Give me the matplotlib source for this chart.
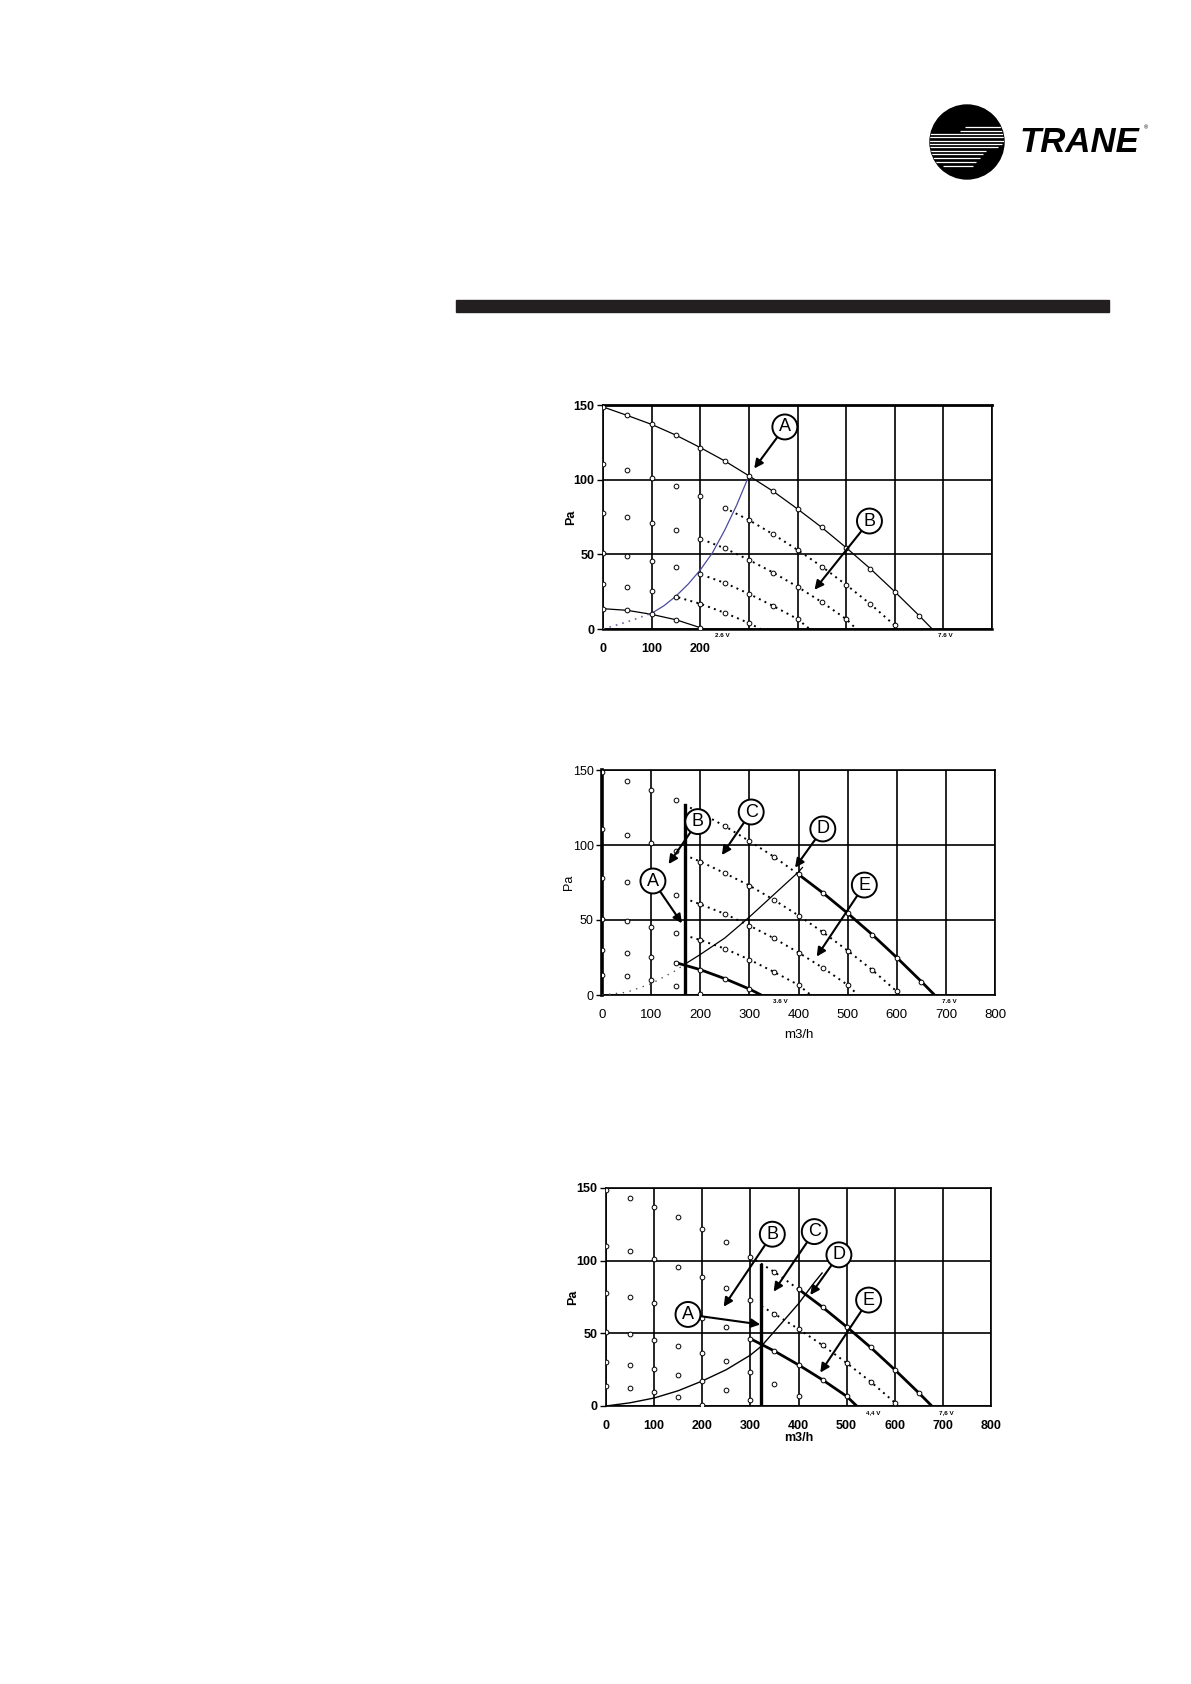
import numpy as np
import matplotlib.pyplot as plt
from matplotlib.patches import Circle, Rectangle

plt.rcParams['font.family'] = ['Liberation Sans', 'DejaVu Sans']

# Точки кривых вентилятора (м3/ч, Па), шаг 50 м3/ч
flow = [0, 50, 100, 150, 200, 250, 300, 350, 400, 450, 500, 550, 600, 650]
p_76 = [148.7, 143, 137, 129.8, 121.5, 112.6, 102.6, 92.2, 80.4, 68, 54.5, 40.3, 25, 9]
p_c2 = [110.4, 106.4, 101.3, 95.7, 89, 81.2, 73, 63.4, 53, 41.8, 29.6, 16.7, 2.4]
p_c3 = [77.9, 75.2, 71.2, 66.6, 60.5, 54.1, 46.3, 37.8, 28.3, 18, 6.7]
p_c4 = [50.8, 49.2, 45.6, 41.6, 36.7, 30.9, 23.6, 15.4, 6.7]
p_c5 = [30.1, 28.3, 25.2, 21.6, 16.9, 10.9, 4]
p_c6 = [13.6, 12.5, 9.8, 6.2, 0.9]
# где кривая пересекает ноль
end_flow = [677, 605, 521, 425, 324, 203]
curves = [p_76, p_c2, p_c3, p_c4, p_c5, p_c6]

# Кривые сети
sys1_x = [100, 125, 150, 175, 200, 225, 250, 275, 300]
sys1_y = [10.5, 15.5, 22, 30, 39.5, 51, 66, 83, 102.6]
sys1_dot_x = [0, 50, 100]
sys1_dot_y = [0, 4.8, 10.5]

sys2_x = [168, 200, 250, 300, 350, 400, 408]
sys2_y = [20.4, 27, 38, 52, 67, 82, 85]
sys2_dot_x = [0, 50, 100, 150, 168]
sys2_dot_y = [0, 1.8, 7.5, 16.3, 20.4]

sys3_x = [0, 50, 100, 150, 200, 250, 300, 323, 350, 400, 432, 449]
sys3_y = [0, 2.2, 5.5, 10.5, 17.2, 25, 35, 41.2, 51.4, 70.4, 84.6, 91.5]

x_ticks = [0, 100, 200, 300, 400, 500, 600, 700, 800]
y_ticks = [0, 50, 100, 150]

# Полосы логотипа: (y, x0, x1) в пикселях
logo_stripes = [(128, 967, 1003), (132, 962, 1004), (135, 930, 1005), (138, 930, 1006),
                (142, 930, 1006), (145, 930, 1004), (148, 930, 1000), (152, 930, 988),
                (155, 930, 985), (159, 930, 982), (163, 935, 978), (167, 945, 975)]

DOT = (0, (1, 2.2))


def curve_xy(i):
    xs = flow[:len(curves[i])] + [end_flow[i]]
    ys = curves[i] + [0]
    return np.array(xs, float), np.array(ys, float)


def segment(ax, i, x0, x1, **kw):
    xs, ys = curve_xy(i)
    inner = xs[(xs > x0) & (xs < x1)]
    sx = np.concatenate([[x0], inner, [x1]])
    ax.plot(sx, np.interp(sx, xs, ys), color='black', zorder=2, **kw)


def markers(ax):
    for c in curves:
        ax.plot(flow[:len(c)], c, ls='none', marker='o', ms=3.4, mfc='white',
                mec='black', mew=0.7, zorder=4)


def setup(ax, bold, xlabels, tick_fs=9):
    w = 'bold' if bold else 'normal'
    ax.set_xlim(0, 800)
    ax.set_ylim(0, 150)
    ax.set_xticks(x_ticks)
    ax.set_yticks(y_ticks)
    ax.set_xticklabels(xlabels, fontsize=tick_fs, fontweight=w)
    ax.set_yticklabels([str(v) for v in y_ticks], fontsize=9, fontweight=w)
    ax.tick_params(axis='x', length=0, pad=10)
    ax.tick_params(axis='y', length=4, width=1, pad=2)
    ax.grid(True, color='black', lw=1.2)
    ax.set_axisbelow(True)
    for s in ax.spines.values():
        s.set_linewidth(1.2)


def tag(ax, letter, xy, xytext):
    ax.annotate(letter, xy=xy, xytext=xytext, ha='center', va='center', fontsize=13,
                bbox=dict(boxstyle='circle,pad=0.22', fc='white', ec='black', lw=1.4),
                arrowprops=dict(arrowstyle='-|>', color='black', lw=1.5, mutation_scale=13,
                                shrinkA=0, shrinkB=0),
                zorder=6, annotation_clip=False)


def volt(ax, x, s):
    ax.text(x, -4.5, s, fontsize=4.5, fontweight='bold', ha='center', va='center',
            clip_on=False)


fig = plt.figure(figsize=(11.91, 16.84), dpi=100)

# Шапка: полоса и логотип
bg = fig.add_axes([0, 0, 1, 1], zorder=-1)
bg.set_xlim(0, 1191)
bg.set_ylim(1684, 0)
bg.axis('off')
bg.add_patch(Rectangle((456, 300), 653, 12, color='#231f20'))
disc = Circle((967, 142), 37, color='black')
bg.add_patch(disc)
for y, x0, x1 in logo_stripes:
    ln, = bg.plot([x0 - 2, x1 - 2], [y - 1, y - 1], color='white', lw=0.9,
                  solid_capstyle='butt')
    ln.set_clip_path(disc)
bg.text(1020, 143, 'TRANE', fontsize=25, fontweight='heavy', style='italic',
        ha='left', va='center')
bg.text(1146, 128, '®', fontsize=4, ha='center', va='center')

# График 1
ax1 = fig.add_axes([603 / 1191, 1 - 629 / 1684, 389 / 1191, 224 / 1684])
setup(ax1, True, ['0', '100', '200', '', '', '', '', '', ''])
ax1.spines['top'].set_linewidth(2)
ax1.spines['bottom'].set_linewidth(1.8)
segment(ax1, 0, 0, end_flow[0], lw=0.9)
segment(ax1, 5, 0, end_flow[5], lw=0.9)
for i, x0 in zip([1, 2, 3, 4], [250, 215, 215, 155]):
    segment(ax1, i, x0, end_flow[i], lw=1.4, ls=DOT)
ax1.plot(sys1_x, sys1_y, color='#4b4b9b', lw=0.9, zorder=3)
ax1.plot(sys1_dot_x, sys1_dot_y, color='#6a6aa8', lw=1.2, ls=(0, (1, 3)), zorder=3)
markers(ax1)
tag(ax1, 'A', (311, 107.5), (374, 135.3))
tag(ax1, 'B', (435, 26.3), (548, 72.3))
volt(ax1, 245, '2.6 V')
volt(ax1, 705, '7.6 V')
ax1.set_ylabel('Pa', fontsize=9, fontweight='bold')
ax1.yaxis.set_label_coords(-0.066, 0.5)

# График 2
ax2 = fig.add_axes([602 / 1191, 1 - 995 / 1684, 393 / 1191, 225 / 1684])
setup(ax2, False, [str(v) for v in x_ticks], tick_fs=9.5)
ax2.spines['left'].set_linewidth(2.6)
ax2.plot([168, 168], [0, 127], color='black', lw=2.4, zorder=3)
segment(ax2, 0, 168, 400, lw=1.4, ls=DOT)
segment(ax2, 0, 400, end_flow[0], lw=2)
for i in [1, 2, 3]:
    segment(ax2, i, 168, end_flow[i], lw=1.4, ls=DOT)
segment(ax2, 4, 150, end_flow[4], lw=2)
ax2.plot(sys2_x, sys2_y, color='black', lw=0.9, zorder=3)
ax2.plot(sys2_dot_x, sys2_dot_y, color='#555555', lw=1, ls=(0, (1, 4)), zorder=3)
markers(ax2)
tag(ax2, 'A', (162.7, 47.8), (103.7, 76))
tag(ax2, 'B', (135.6, 87.3), (195, 115.6))
tag(ax2, 'C', (244, 93.3), (303.7, 122))
tag(ax2, 'D', (393, 84.9), (449.5, 110.7))
tag(ax2, 'E', (437, 25.6), (534, 73.3))
volt(ax2, 363, '3.6 V')
volt(ax2, 708, '7.6 V')
ax2.set_ylabel('Pa', fontsize=9)
ax2.yaxis.set_label_coords(-0.068, 0.5)
ax2.set_xlabel('m3/h', fontsize=9.5)
ax2.xaxis.set_label_coords(0.5, -0.15)

# График 3
ax3 = fig.add_axes([606 / 1191, 1 - 1406 / 1684, 385 / 1191, 218 / 1684])
setup(ax3, True, [str(v) for v in x_ticks])
ax3.plot([323, 323], [0, 97], color='black', lw=2.4, zorder=3)
segment(ax3, 0, 300, 400, lw=1.4, ls=DOT)
segment(ax3, 0, 400, end_flow[0], lw=2)
segment(ax3, 1, 323, end_flow[1], lw=1.4, ls=DOT)
segment(ax3, 2, 300, end_flow[2], lw=2)
ax3.plot(sys3_x, sys3_y, color='black', lw=1, zorder=3)
markers(ax3)
tag(ax3, 'A', (320.6, 56.1), (170.4, 63))
tag(ax3, 'B', (244.5, 68.3), (345.6, 118.2))
tag(ax3, 'C', (348.3, 78.7), (432.8, 120))
tag(ax3, 'D', (424.5, 76.4), (484, 104))
tag(ax3, 'E', (445.3, 23), (545.7, 72.9))
volt(ax3, 555, '4,4 V')
volt(ax3, 708, '7,6 V')
ax3.set_ylabel('Pa', fontsize=9, fontweight='bold')
ax3.yaxis.set_label_coords(-0.07, 0.5)
ax3.set_xlabel('m3/h', fontsize=9, fontweight='bold')
ax3.xaxis.set_label_coords(0.5, -0.12)

fig.savefig('out.png', dpi=100)
